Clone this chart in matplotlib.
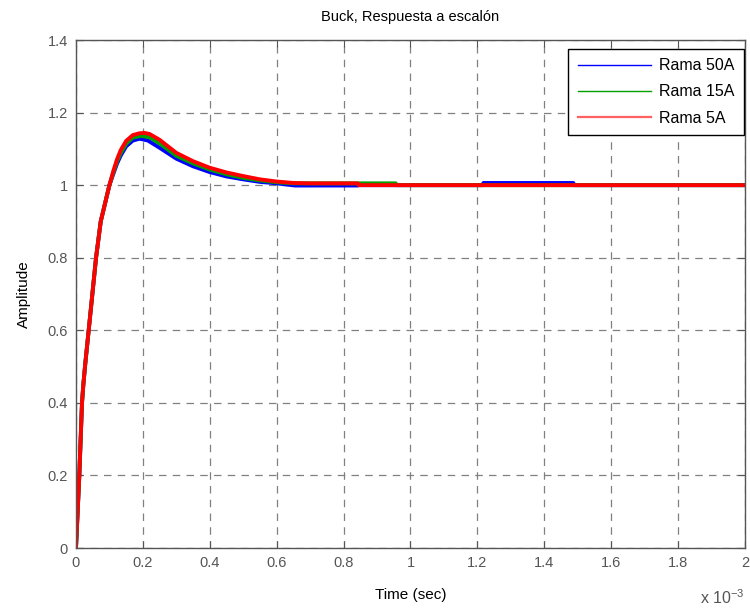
import matplotlib
matplotlib.use("Agg")
import matplotlib.pyplot as plt
from matplotlib.lines import Line2D

plt.rcParams['font.family'] = ['Liberation Sans', 'DejaVu Sans']
plt.rcParams['mathtext.default'] = 'regular'

# time in ms (axis shows x 10^-3 s)
t_red = [0, 0.005, 0.010, 0.014, 0.018, 0.022, 0.028, 0.038, 0.049, 0.060, 0.074, 0.087,
         0.100, 0.112, 0.123, 0.134, 0.150, 0.170, 0.190, 0.205, 0.220, 0.250, 0.275,
         0.300, 0.350, 0.400, 0.450, 0.500, 0.550, 0.600, 0.650, 0.700, 0.843, 0.845, 2.0]
y_red = [0, 0.10, 0.20, 0.30, 0.40, 0.45, 0.51, 0.60, 0.70, 0.80, 0.90, 0.95,
         1.00, 1.04, 1.072, 1.097, 1.122, 1.138, 1.143, 1.144, 1.141, 1.125, 1.107,
         1.089, 1.066, 1.048, 1.035, 1.025, 1.016, 1.010, 1.006, 1.005, 1.005, 1.000, 1.000]

t_green = [0, 0.005, 0.010, 0.014, 0.018, 0.022, 0.028, 0.038, 0.049, 0.060, 0.074, 0.087,
           0.100, 0.112, 0.123, 0.134, 0.150, 0.170, 0.195, 0.220, 0.250, 0.275, 0.300,
           0.350, 0.400, 0.450, 0.500, 0.550, 0.600, 0.650, 0.956, 0.958, 2.0]
y_green = [0, 0.10, 0.20, 0.30, 0.40, 0.45, 0.51, 0.60, 0.70, 0.80, 0.90, 0.95,
           1.00, 1.036, 1.066, 1.089, 1.114, 1.131, 1.136, 1.132, 1.115, 1.098, 1.081,
           1.060, 1.043, 1.030, 1.020, 1.013, 1.008, 1.005, 1.005, 1.000, 1.000]

t_blue = [0, 0.005, 0.010, 0.014, 0.018, 0.022, 0.028, 0.038, 0.049, 0.060, 0.074, 0.087,
          0.100, 0.112, 0.123, 0.134, 0.150, 0.170, 0.190, 0.215, 0.250, 0.275, 0.300,
          0.350, 0.400, 0.450, 0.500, 0.550, 0.600, 0.655, 0.843, 0.845, 1.216, 1.218,
          1.487, 1.489, 2.0]
y_blue = [0, 0.10, 0.20, 0.30, 0.40, 0.45, 0.51, 0.60, 0.70, 0.80, 0.90, 0.95,
          1.00, 1.032, 1.060, 1.082, 1.107, 1.123, 1.128, 1.123, 1.103, 1.088, 1.073,
          1.052, 1.036, 1.024, 1.016, 1.009, 1.005, 0.999, 0.999, 1.000, 1.000, 1.006,
          1.006, 1.000, 1.000]

series_names = ['Rama 50A', 'Rama 15A', 'Rama 5A']
xticks = [0, 0.2, 0.4, 0.6, 0.8, 1.0, 1.2, 1.4, 1.6, 1.8, 2.0]
xtick_labels = ['0', '0.2', '0.4', '0.6', '0.8', '1', '1.2', '1.4', '1.6', '1.8', '2']
yticks = [0, 0.2, 0.4, 0.6, 0.8, 1.0, 1.2, 1.4]
ytick_labels = ['0', '0.2', '0.4', '0.6', '0.8', '1', '1.2', '1.4']

c_blue, c_green, c_red = '#0000ff', '#00a000', '#ff0000'

fig = plt.figure(figsize=(7.5, 6.1), dpi=100)
ax = fig.add_axes([0.1013, 0.1016, 0.8920, 0.8328])

ax.plot(t_blue, y_blue, color=c_blue, lw=2.8, solid_capstyle='round')
ax.plot(t_green, y_green, color=c_green, lw=2.8, solid_capstyle='round')
ax.plot(t_red, y_red, color=c_red, lw=2.8, solid_capstyle='round')

ax.set_xlim(0, 2)
ax.set_ylim(0, 1.4)
ax.set_xticks(xticks)
ax.set_xticklabels(xtick_labels)
ax.set_yticks(yticks)
ax.set_yticklabels(ytick_labels)
ax.grid(True, color='#808080', linestyle=(0, (6, 5)), linewidth=0.9)
ax.tick_params(direction='in', length=5, width=0.8, colors='#555555', labelsize=10.5,
               top=True, right=True, pad=6)
for s in ax.spines.values():
    s.set_color('#555555')
    s.set_linewidth(1.0)

ax.set_title('Buck, Respuesta a escalón', fontsize=10.5, color='black', pad=14)
ax.set_xlabel('Time (sec)', fontsize=11, color='black', labelpad=13)
ax.set_ylabel('Amplitude', fontsize=11, color='black', labelpad=12)
ax.text(1.0, -0.110, r'x 10$^{-3}$', transform=ax.transAxes, ha='right', va='baseline',
        fontsize=11.5, color='#555555')

handles = [Line2D([], [], color=c_blue, lw=1.0),
           Line2D([], [], color=c_green, lw=1.0),
           Line2D([], [], color='#ff6060', lw=1.6)]
leg = ax.legend(handles, series_names, loc='upper right', bbox_to_anchor=(0.9985, 0.983),
                fontsize=11.5, frameon=True, fancybox=False, framealpha=1,
                edgecolor='black', handlelength=4.6, handletextpad=0.5,
                labelspacing=0.7, borderpad=0.6, borderaxespad=0)
leg.get_frame().set_linewidth(1.0)

fig.savefig('out.png', dpi=100)
